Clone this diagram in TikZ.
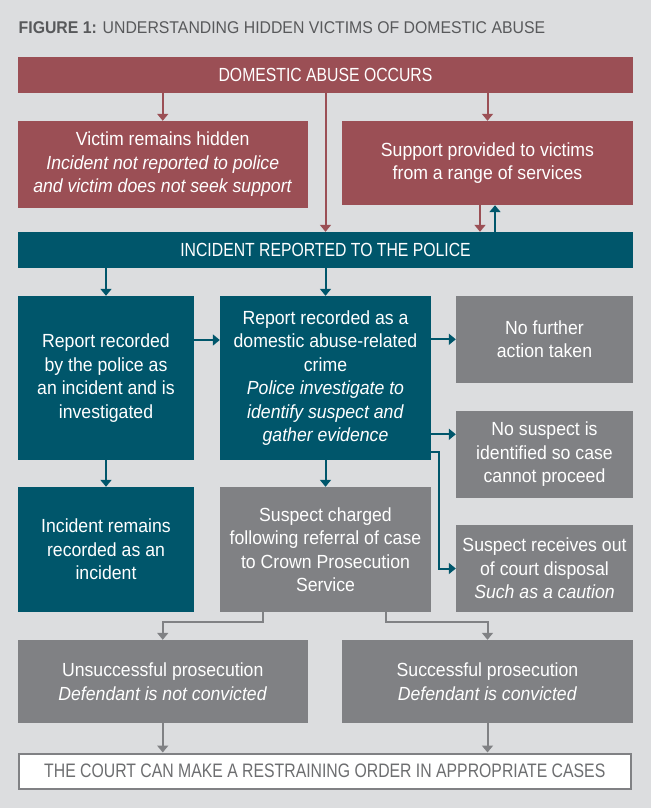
\documentclass[tikz,border=0pt]{standalone}
\usepackage{fontspec}
\setmainfont{Liberation Sans}[FakeStretch=0.93]
\newfontfamily\capsfont{Liberation Sans}[FakeStretch=0.83]
\newfontfamily\courtfont{Liberation Sans}[FakeStretch=0.81]
\newfontfamily\titlefont{Liberation Sans}[FakeStretch=0.93]
\usetikzlibrary{arrows.meta,calc}
\definecolor{bgc}{HTML}{DCDDDF}
\definecolor{mar}{HTML}{9B4F55}
\definecolor{tea}{HTML}{00566B}
\definecolor{gry}{HTML}{808184}
\definecolor{ttl}{HTML}{58595B}
\definecolor{crt}{HTML}{6D6E70}
\begin{document}
\begin{tikzpicture}[x=1pt,y=-1pt,
  box/.style={draw=none, inner sep=0pt, align=center, text=white,
    font=\fontsize{19}{23.5}\selectfont},
  capbox/.style={box, font=\capsfont\fontsize{19}{22}\selectfont},
  redbox/.style={box, fill=mar},
  tealbox/.style={box, fill=tea},
  graybox/.style={box, fill=gry},
  arr/.style={line width=2pt, -{Triangle[width=11pt,length=7pt]}},
  redarr/.style={arr, draw=mar},
  tealarr/.style={arr, draw=tea},
  grayarr/.style={arr, draw=gry}]
\fill[bgc] (0,0) rectangle (651,808);
\useasboundingbox (0,0) rectangle (651,808);

\node[anchor=base west, inner sep=0pt, text=ttl, font=\titlefont\fontsize{17}{20}\selectfont]
  (title) at (18.5,33.3) {\textbf{FIGURE 1:} UNDERSTANDING HIDDEN VICTIMS OF DOMESTIC ABUSE};

\node[capbox, fill=mar, minimum width=615pt, minimum height=36pt] (top) at (325.5,75) {DOMESTIC ABUSE OCCURS};
\node[redbox, minimum width=289.5pt, minimum height=86.5pt] (victim) at (162.75,164.25)
  {Victim remains hidden\\ \textit{Incident not reported to police}\\ \textit{and victim does not seek support}};
\node[redbox, minimum width=291pt, minimum height=84pt] (support) at (487.5,163)
  {Support provided to victims\\ from a range of services};
\node[capbox, fill=tea, minimum width=615pt, minimum height=36pt] (police) at (325.5,250) {INCIDENT REPORTED TO THE POLICE};

\node[tealbox, minimum width=176pt, minimum height=164pt] (report) at (106,378)
  {Report recorded\\ by the police as\\ an incident and is\\ investigated};
\node[tealbox, minimum width=211pt, minimum height=164pt] (crime) at (325.5,378)
  {Report recorded as a\\ domestic abuse-related\\ crime\\ \textit{Police investigate to}\\ \textit{identify suspect and}\\ \textit{gather evidence}};
\node[graybox, minimum width=177pt, minimum height=86.7pt] (nofurther) at (544.5,339.3)
  {No further\\ action taken};
\node[graybox, minimum width=177pt, minimum height=86.7pt] (nosuspect) at (544.5,454.3)
  {No suspect is\\ identified so case\\ cannot proceed};
\node[graybox, minimum width=177pt, minimum height=87pt] (outofcourt) at (544.5,568.5)
  {Suspect receives out\\ of court disposal\\ \textit{Such as a caution}};
\node[tealbox, minimum width=176pt, minimum height=125pt] (remains) at (106,549.5)
  {Incident remains\\ recorded as an\\ incident};
\node[graybox, minimum width=211pt, minimum height=125pt] (charged) at (325.5,549.5)
  {Suspect charged\\ following referral of case\\ to Crown Prosecution\\ Service};
\node[graybox, minimum width=289.5pt, minimum height=83pt] (unsucc) at (162.75,681.5)
  {Unsuccessful prosecution\\ \textit{Defendant is not convicted}};
\node[graybox, minimum width=291pt, minimum height=83pt] (succ) at (487.5,681.5)
  {Successful prosecution\\ \textit{Defendant is convicted}};
\node[draw=gry, line width=2pt, fill=white, inner sep=0pt, text=crt,
  font=\courtfont\fontsize{19.5}{22}\selectfont,
  minimum width=611.5pt, minimum height=35.5pt] (court) at (324.75,771.25)
  {THE COURT CAN MAKE A RESTRAINING ORDER IN APPROPRIATE CASES};

\coordinate (nsin) at ([yshift=20pt]nosuspect.west);

% connectors
\draw[redarr] (top.south -| victim.north) -- (victim.north);
\draw[redarr] (top.south) -- (police.north);
\draw[redarr] (top.south -| support.north) -- (support.north);
\draw[redarr] ([xshift=-7.5pt]support.south) -- ([xshift=-7.5pt]support.south |- police.north);
\draw[tealarr] ([xshift=7.5pt]support.south |- police.north) -- ([xshift=7.5pt]support.south);

\draw[tealarr] (police.south -| report.north) -- (report.north);
\draw[tealarr] (police.south) -- (crime.north);
\draw[tealarr] ([yshift=38pt]report.east) -- ([yshift=38pt]crime.west);
\draw[tealarr] (crime.east |- nofurther.west) -- (nofurther.west);
\draw[tealarr] (crime.east |- nsin) -- (nsin);
\draw[tealarr] ([yshift=-73.7pt]crime.east) -- ++(7.8,0) |- (outofcourt.west);
\draw[tealarr] (report.south) -- (remains.north);
\draw[tealarr] (crime.south) -- (charged.north);

\draw[grayarr] ([xshift=-62.5pt]charged.south) -- ++(0,10) -| (unsucc.north);
\draw[grayarr] ([xshift=60.5pt]charged.south) -- ++(0,10) -| (succ.north);
\draw[grayarr] (unsucc.south) -- (unsucc.south |- court.north);
\draw[grayarr] (succ.south) -- (succ.south |- court.north);
\end{tikzpicture}
\end{document}
